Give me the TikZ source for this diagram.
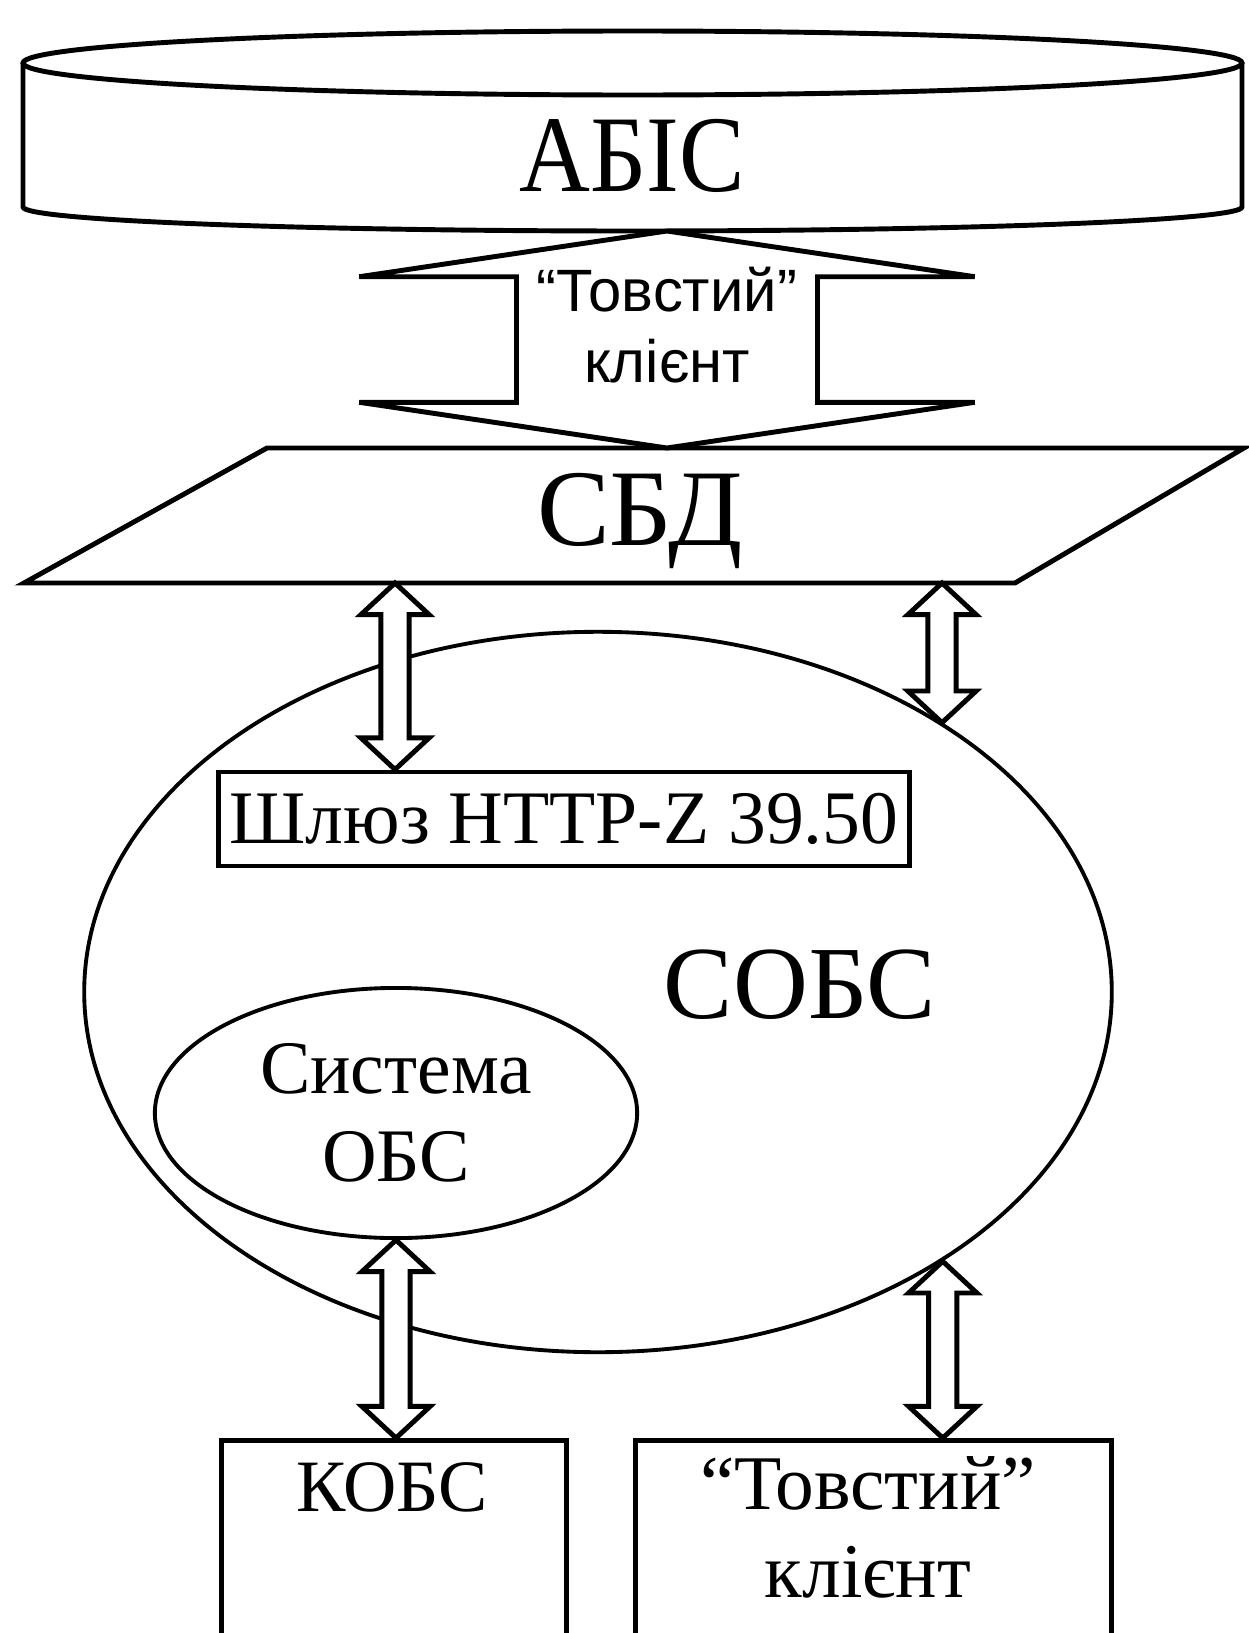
\documentclass[tikz,border=0pt]{standalone}
\usepackage{fontspec}
\setmainfont{Liberation Serif}
\newfontfamily\narrowserif{Liberation Serif}[FakeStretch=0.9]
\newfontfamily\labelsans{Liberation Sans}
\usetikzlibrary{shapes.geometric,calc}

\begin{document}
\begin{tikzpicture}[x=0.01cm, y=-0.01cm, line width=1.4pt]
    \tikzset{box/.style = {shape=rectangle, draw, fill=white, inner sep=0pt}}
    \tikzset{oval/.style = {shape=ellipse, draw, line width=1.1pt, inner sep=0pt}}
    \tikzset{bidir/.style n args = {3}{draw, fill=white, to path={let \p1=(\tikztostart), \p2=(\tikztotarget) in
        (\x1,\y1) -- (\x1+#2,\y1-#3) -- (\x1+#1,\y1-#3) -- (\x1+#1,\y2+#3) -- (\x1+#2,\y2+#3) -- (\x1,\y2)
        -- (\x1-#2,\y2+#3) -- (\x1-#1,\y2+#3) -- (\x1-#1,\y1-#3) -- (\x1-#2,\y1-#3) -- cycle}}}
    \tikzset{big/.style = {font=\fontsize{30}{34}\selectfont}}
    \tikzset{mid/.style = {font=\fontsize{21.5}{25}\selectfont, align=center}}

    \useasboundingbox (0,0) rectangle (1248,1633);

    % storage and data layer
    \draw (23,63) -- (23,207) arc[start angle=180, end angle=0, x radius=609.5, y radius=24] -- (1242,63);
    \draw (632.5,63) ellipse [x radius=609.5, y radius=32];
    \node[font=\narrowserif\fontsize{31}{36}\selectfont] (abis) at (632,156) {АБІС};
    \draw (267,448) -- (1244,448) -- (1015,583) -- (24,583) -- cycle;
    \node[big, font=\fontsize{31}{35}\selectfont] (sbd) at (640,521) {СБД};

    \coordinate (abis-bot) at (667,231);
    \coordinate (sbd-top) at (667,448);
    \coordinate (sbd-l) at (395,583);
    \coordinate (sbd-r) at (942,583);

    % thick client link
    \draw[bidir={42.8pt}{87.5pt}{13pt}] (abis-bot) to (sbd-top);
    \node[font=\labelsans\fontsize{17}{20}\selectfont, align=center] (thick) at (667,325) {“Товстий”\\клієнт};

    % service system
    \node[oval, minimum width=10.27cm, minimum height=7.2cm] (sobs) at (598,992) {};
    \node[big, font=\fontsize{29.5}{34}\selectfont] (sobs-t) at (800,985) {СОБС};
    \node[oval, mid, minimum width=4.82cm, minimum height=2.5cm] (obs) at (396,1113) {Система\\ОБС};
    \node[box, minimum width=6.9cm, minimum height=0.94cm, font=\fontsize{21.5}{25}\selectfont] (gate) at (564,819) {Шлюз HTTP-Z 39.50};

    % clients
    \node[box, anchor=north, minimum width=3.44cm, minimum height=2.5cm] (kobs) at (394,1438) {};
    \node[box, anchor=north, minimum width=4.75cm, minimum height=2.5cm] (client) at (873.5,1438) {};
    \node[mid, font=\fontsize{21}{25}\selectfont] (kobs-t) at (392,1487) {КОБС};
    \node[mid, font=\fontsize{22}{25}\selectfont] (client-t) at (868,1527) {“Товстий”\\клієнт};

    % links
    \draw[bidir={4pt}{9.7pt}{9pt}] (sbd-l) to (gate.north);
    \draw[bidir={4pt}{9.7pt}{9pt}] (sbd-r) to (sobs.38);
    \draw[bidir={4pt}{9.7pt}{9pt}] (obs.south) to (kobs.north);
    \draw[bidir={4pt}{9.7pt}{9pt}] (sobs.-38) to (client.north);
\end{tikzpicture}
\end{document}
